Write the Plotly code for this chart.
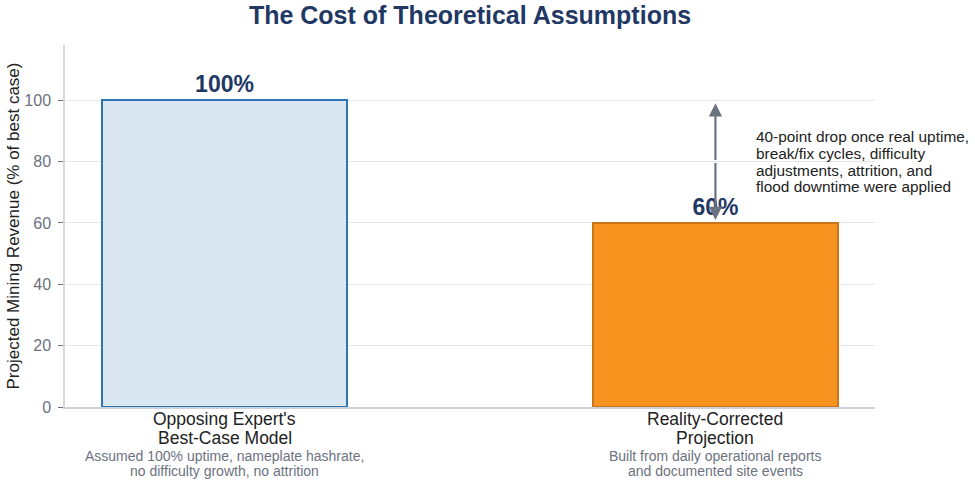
import plotly.graph_objects as go

categories = [["Opposing Expert's", "Best-Case Model"], ["Reality-Corrected", "Projection"]]
subtitles = [["Assumed 100% uptime, nameplate hashrate,", "no difficulty growth, no attrition"],
             ["Built from daily operational reports", "and documented site events"]]
values = [100, 60]
value_labels = ["100%", "60%"]
fills = ["#dae6f2", "#f7931e"]
outlines = ["#2e75b6", "#c8751a"]
note_lines = ["40-point drop once real uptime,", "break/fix cycles, difficulty",
              "adjustments, attrition, and", "flood downtime were applied"]
yticks = [0, 20, 40, 60, 80, 100]

xpos = list(range(len(values)))
FONT = "Liberation Sans, Arial, sans-serif"

fig = go.Figure()
fig.add_trace(go.Bar(
    x=xpos, y=values, width=0.5,
    marker=dict(color=fills, line=dict(color=outlines, width=2)),
    text=value_labels, textposition="outside", cliponaxis=False,
    textfont=dict(size=23, color="#1f3864", family=FONT, weight="bold"),
    hoverinfo="skip", showlegend=False,
))

ann = []
for i, lines in enumerate(categories):
    for j, ln in enumerate(lines):
        ann.append(dict(x=xpos[i], y=0, xref="x", yref="paper", text=ln, showarrow=False,
                        yanchor="middle", yshift=-12 - 19 * j, borderpad=0,
                        font=dict(size=17.5, color="#222222", family=FONT)))
    for j, ln in enumerate(subtitles[i]):
        ann.append(dict(x=xpos[i], y=0, xref="x", yref="paper", text=ln, showarrow=False,
                        yanchor="middle", yshift=-48.5 - 15 * j, borderpad=0,
                        font=dict(size=14, color="#6b7280", family=FONT)))

# double-headed arrow between the two values (drawn as two heads from the midpoint)
mid = (values[0] + values[1]) / 2
for tip in (values[0], values[1]):
    ann.append(dict(x=xpos[1], y=tip, ax=xpos[1], ay=mid, xref="x", yref="y",
                    axref="x", ayref="y", text="", showarrow=True,
                    arrowhead=2, arrowsize=1.2, arrowwidth=2.2, arrowcolor="#6b7280",
                    standoff=3))

for k, ln in enumerate(note_lines):
    ann.append(dict(x=xpos[1] + 0.08, y=80, xref="x", yref="y", text=ln, showarrow=False,
                    xanchor="left", yanchor="middle", yshift=25 - 16.8 * k, borderpad=0,
                    font=dict(size=15.4, color="#222222", family=FONT)))

fig.update_layout(
    width=975, height=484,
    margin=dict(l=65, r=100, t=45, b=77),
    paper_bgcolor="white", plot_bgcolor="white",
    font=dict(family=FONT),
    title=dict(text="<b>The Cost of Theoretical Assumptions</b>", x=0.5, xref="paper",
               y=0.969, yanchor="middle",
               font=dict(size=25, color="#1f3864", family=FONT)),
    xaxis=dict(range=[-0.325, 1.325], showticklabels=False, showgrid=False,
               zeroline=False, showline=True, linecolor="#cbd2dc", linewidth=1.5,
               ticks="", automargin=False),
    yaxis=dict(range=[0, 118], tickvals=yticks, showgrid=True, gridcolor="#e5e7eb",
               gridwidth=1, zeroline=False, showline=True, linecolor="#d5dae1",
               linewidth=1.5, ticks="outside", ticklen=5, tickcolor="#6b7280",
               ticklabelstandoff=4, automargin=True,
               tickfont=dict(size=16, color="#6b7280", family=FONT),
               title=dict(text="Projected Mining Revenue (% of best case)", standoff=0,
                          font=dict(size=17, color="#222222", family=FONT))),
    annotations=ann,
    bargap=0,
)

fig.write_html("out.html")
